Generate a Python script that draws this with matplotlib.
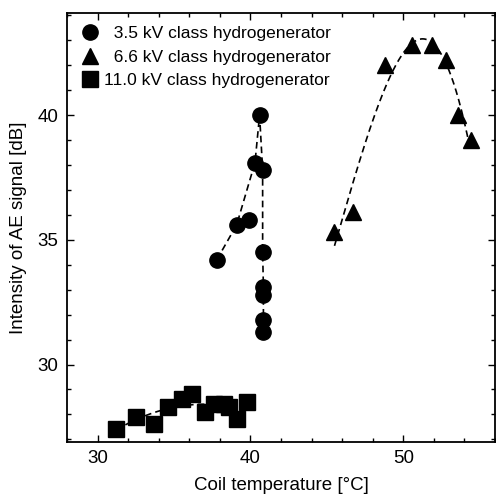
import numpy as np
import matplotlib
matplotlib.use('Agg')
from matplotlib import pyplot as plt
from matplotlib.ticker import MultipleLocator

plt.rcParams['font.family'] = ['Liberation Sans', 'DejaVu Sans']

# 3.5 kV class (in the order the dashed line goes through them, last one is off the line)
circ_x = [37.8, 39.1, 40.3, 40.6, 40.8, 40.8, 40.85, 40.85, 40.85, 40.85, 39.9]
circ_y = [34.2, 35.6, 38.1, 40.0, 37.8, 34.5, 33.1, 32.8, 31.8, 31.3, 35.8]
circ_line = 10

# 6.6 kV class
tri_x = [45.5, 46.7, 48.8, 50.6, 51.9, 52.8, 53.6, 54.4]
tri_y = [35.3, 36.1, 42.0, 42.8, 42.8, 42.2, 40.0, 39.0]

# 11.0 kV class
sq_x = [31.2, 32.5, 33.7, 34.6, 35.5, 36.2, 37.0, 37.6, 38.3, 38.6, 39.1, 39.8]
sq_y = [27.4, 27.9, 27.6, 28.3, 28.6, 28.8, 28.1, 28.4, 28.4, 28.3, 27.8, 28.5]

labels = ['  3.5 kV class hydrogenerator',
          '  6.6 kV class hydrogenerator',
          '11.0 kV class hydrogenerator']

fig = plt.figure(figsize=(4.96, 4.97), dpi=100)
ax = fig.add_axes([0.135, 0.111, 0.863, 0.863])

dash = dict(color='black', lw=1.2, ls=(0, (4, 2.5)))

# trend lines
ax.plot(circ_x[:circ_line], circ_y[:circ_line], **dash)
p = np.polyfit(tri_x, tri_y, 3)
xt = np.linspace(min(tri_x), max(tri_x), 200)
ax.plot(xt, np.polyval(p, xt), **dash)
p2 = np.polyfit(sq_x, sq_y, 2)
xs = np.linspace(min(sq_x), max(sq_x), 200)
ax.plot(xs, np.polyval(p2, xs), **dash)

ax.plot(circ_x, circ_y, 'o', color='black', ms=11, ls='none', label=labels[0])
ax.plot(tri_x, tri_y, '^', color='black', ms=12, ls='none', label=labels[1])
ax.plot(sq_x, sq_y, 's', color='black', ms=11.5, ls='none', label=labels[2])

ax.set_xlim(28, 56)
ax.set_ylim(26.9, 44.1)
ax.xaxis.set_major_locator(MultipleLocator(10))
ax.xaxis.set_minor_locator(MultipleLocator(2))
ax.yaxis.set_major_locator(MultipleLocator(5))
ax.yaxis.set_minor_locator(MultipleLocator(1))
ax.tick_params(which='both', direction='in', top=True, right=True, labelsize=13.5, width=1)
ax.tick_params(which='major', length=5, pad=6)
ax.tick_params(which='minor', length=3)
for s in ax.spines.values():
    s.set_linewidth(1.3)

ax.set_xlabel('Coil temperature [°C]', fontsize=13.5, labelpad=7)
ax.set_ylabel('Intensity of AE signal [dB]', fontsize=13.5, labelpad=8)

ax.legend(loc='upper left', frameon=False, fontsize=12.5, handletextpad=0.2,
          borderaxespad=0.45, labelspacing=0.48, handlelength=1.2, borderpad=0.3)

fig.savefig('out.png', dpi=100)
